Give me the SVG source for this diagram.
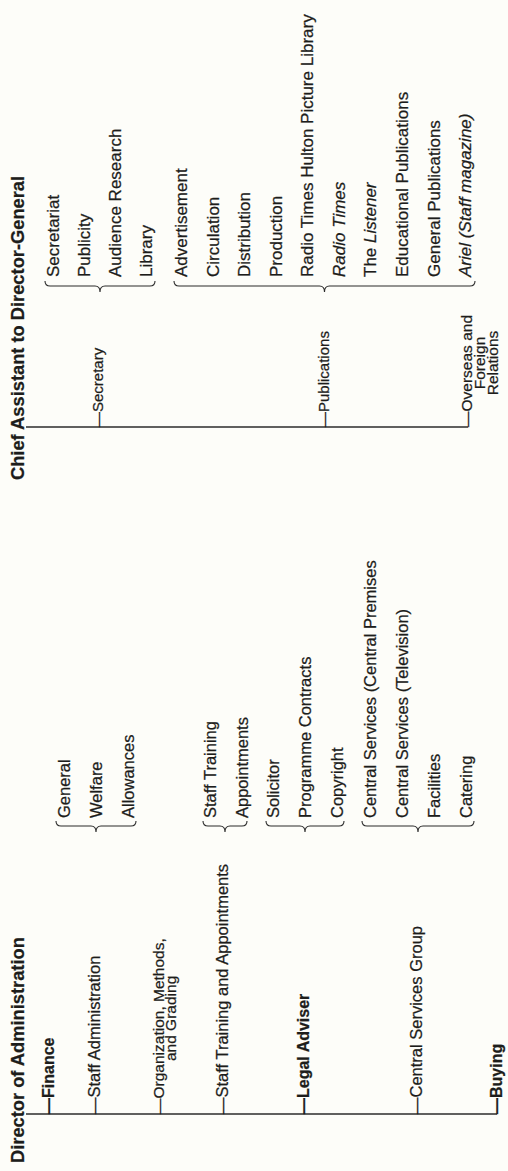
<svg xmlns="http://www.w3.org/2000/svg" width="508" height="1171" viewBox="0 0 508 1171">
  <style>
    text { font-family: "Liberation Sans", Arial, sans-serif; fill: #1d1d1b; stroke: #1d1d1b; stroke-width: 0.25; }
    .title { font-size: 18.3px; font-weight: bold; }
    .head { font-size: 16.5px; }
    .headb { font-size: 16px; font-weight: bold; }
    .headr { font-size: 15px; }
    .multi { font-size: 15.5px; }
    .sub { font-size: 16.5px; }
    .subr { font-size: 17px; }
    .it { font-style: italic; }
    .mid { text-anchor: middle; }
    .spine { stroke: #2b2b2b; stroke-width: 1.4; fill: none; }
    .brace { stroke: #2b2b2b; stroke-width: 1.1; fill: none; }
  </style>
  <rect width="508" height="1171" fill="#fdfdf9"/>

  <!-- page drawn in landscape, turned a quarter-turn so it reads bottom to top -->
  <g transform="translate(0,1171) rotate(-90)">

    <!-- connectors: spines and grouping braces -->
    <g id="connectors">
      <line class="spine" x1="57" y1="26" x2="57" y2="497"/>
      <line class="spine" x1="744" y1="26" x2="744" y2="468"/>
      <!-- braces: tips at 350, stem at 345, point at 339 -->
      <path class="brace" d="M350,56 Q345,56 345,61 L345,91 Q345,96 339,96 Q345,96 345,101 L345,131 Q345,136 350,136"/>
      <path class="brace" d="M350,203 Q345,203 345,208 L345,220 Q345,225 339,225 Q345,225 345,230 L345,242 Q345,247 350,247"/>
      <path class="brace" d="M350,266 Q345,266 345,271 L345,300 Q345,305 339,305 Q345,305 345,310 L345,339 Q345,344 350,344"/>
      <path class="brace" d="M350,362 Q345,362 345,367 L345,413 Q345,418 339,418 Q345,418 345,423 L345,469 Q345,474 350,474"/>
      <path class="brace" d="M890,45 Q885,45 885,50 L885,95 Q885,100 879,100 Q885,100 885,105 L885,150 Q885,155 890,155"/>
      <path class="brace" d="M890,174 Q885,174 885,179 L885,319.5 Q885,324.5 879,324.5 Q885,324.5 885,329.5 L885,470 Q885,475 890,475"/>
    </g>

    <!-- Director of Administration -->
    <g id="dir-admin"><text class="title" x="8" y="24">Director of Administration</text></g>
    <g id="finance"><text class="headb" x="57" y="53.5">—Finance</text></g>
    <g id="staff-admin"><text class="head" x="57" y="99.5">—Staff Administration</text></g>
    <g id="staff-admin-units">
      <text class="sub" x="353" y="70">General</text>
      <text class="sub" x="353" y="102">Welfare</text>
      <text class="sub" x="353" y="134">Allowances</text>
    </g>
    <g id="org-methods">
      <text class="multi" x="57" y="163.5">—Organization, Methods,</text>
      <text class="multi mid" x="152.6" y="176">and Grading</text>
    </g>
    <g id="staff-training"><text class="head" x="57" y="227.5">—Staff Training and Appointments</text></g>
    <g id="staff-training-units">
      <text class="sub" x="353" y="216">Staff Training</text>
      <text class="sub" x="353" y="248">Appointments</text>
    </g>
    <g id="legal"><text class="headb" x="57" y="308.5">—Legal Adviser</text></g>
    <g id="legal-units">
      <text class="sub" x="353" y="279">Solicitor</text>
      <text class="sub" x="353" y="311">Programme Contracts</text>
      <text class="sub" x="353" y="343">Copyright</text>
    </g>
    <g id="central-services"><text class="head" x="57" y="422">—Central Services Group</text></g>
    <g id="central-services-units">
      <text class="sub" x="353" y="376">Central Services (Central Premises</text>
      <text class="sub" x="353" y="408">Central Services (Television)</text>
      <text class="sub" x="353" y="440">Facilities</text>
      <text class="sub" x="353" y="472">Catering</text>
    </g>
    <g id="buying"><text class="headb" x="57" y="501.5">—Buying</text></g>

    <!-- Chief Assistant to Director-General -->
    <g id="chief-assistant"><text class="title" x="691" y="24">Chief Assistant to Director-General</text></g>
    <g id="secretary"><text class="headr" x="744" y="103">—Secretary</text></g>
    <g id="secretary-units">
      <text class="subr" x="894" y="59">Secretariat</text>
      <text class="subr" x="894" y="90">Publicity</text>
      <text class="subr" x="894" y="121">Audience Research</text>
      <text class="subr" x="894" y="152">Library</text>
    </g>
    <g id="publications"><text class="headr" x="744" y="329">—Publications</text></g>
    <g id="publications-units">
      <text class="subr" x="894" y="187">Advertisement</text>
      <text class="subr" x="894" y="219">Circulation</text>
      <text class="subr" x="894" y="250">Distribution</text>
      <text class="subr" x="894" y="282">Production</text>
      <text class="subr" x="894" y="313">Radio Times Hulton Picture Library</text>
      <text class="subr it" x="894" y="345">Radio Times</text>
      <text class="subr" x="894" y="376">The <tspan class="it">Listener</tspan></text>
      <text class="subr" x="894" y="408">Educational Publications</text>
      <text class="subr" x="894" y="440">General Publications</text>
      <text class="subr it" x="894" y="471">Ariel (Staff magazine)</text>
    </g>
    <g id="overseas">
      <text class="multi" x="744" y="472">—Overseas and</text>
      <text class="multi mid" x="808" y="485">Foreign</text>
      <text class="multi mid" x="808" y="498">Relations</text>
    </g>
  </g>
</svg>
